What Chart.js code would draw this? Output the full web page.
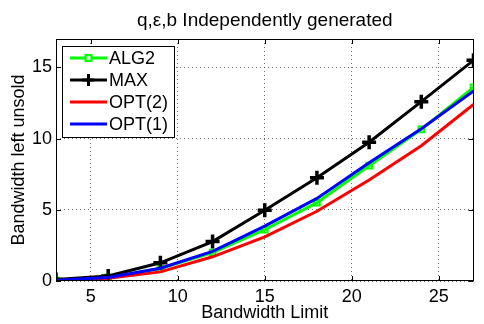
<!DOCTYPE html>
<html>
<head>
<meta charset="utf-8">
<script src="https://cdn.jsdelivr.net/npm/chart.js@4.4.1/dist/chart.umd.min.js"></script>
<style>
  html, body { margin: 0; padding: 0; background: #fff; }
  #c { display: block; }
</style>
</head>
<body>
<canvas id="c" width="484" height="324"></canvas>
<script>
// Data
const bandwidthLimits = [3, 6, 9, 12, 15, 18, 21, 24, 27];
const alg2Values = [0.05, 0.25, 0.88, 2.0, 3.6, 5.5, 8.1, 10.65, 13.6];
const maxValues  = [0.1, 0.35, 1.28, 2.77, 4.97, 7.25, 9.75, 12.6, 15.5];
const opt2Values = [0.04, 0.2, 0.64, 1.7, 3.1, 4.9, 7.1, 9.5, 12.4];
const opt1Values = [0.05, 0.25, 0.9, 2.08, 3.85, 5.8, 8.3, 10.7, 13.35];
const xTicks = [5, 10, 15, 20, 25];
const yTicks = [0, 5, 10, 15];

const FONT = "'Liberation Sans', Arial, sans-serif";

const toPts = (ys) => ys.map((y, i) => ({ x: bandwidthLimits[i], y }));

// Box round the plot, MATLAB-style inner ticks and the legend
const matlabFrame = {
  id: "matlabFrame",
  afterDatasetsDraw(chart) {
    const { ctx, chartArea: a, scales } = chart;
    ctx.save();
    ctx.strokeStyle = "#000";
    ctx.lineWidth = 1;
    const tl = 5;
    ctx.beginPath();
    for (const v of xTicks) {
      const px = Math.round(scales.x.getPixelForValue(v)) + 0.5;
      ctx.moveTo(px, a.bottom); ctx.lineTo(px, a.bottom - tl);
      ctx.moveTo(px, a.top); ctx.lineTo(px, a.top + tl);
    }
    for (const v of yTicks) {
      const py = Math.round(scales.y.getPixelForValue(v)) + 0.5;
      ctx.moveTo(a.left, py); ctx.lineTo(a.left + tl, py);
      ctx.moveTo(a.right, py); ctx.lineTo(a.right - tl, py);
    }
    ctx.stroke();
    ctx.strokeRect(Math.round(a.left) + 0.5, Math.round(a.top) + 0.5,
      Math.round(a.right - a.left) - 1, Math.round(a.bottom - a.top) - 1);

    // legend
    const lx = a.left + 6, ly = a.top + 7, lw = 112, lh = 91;
    ctx.fillStyle = "#fff";
    ctx.fillRect(lx, ly, lw, lh);
    ctx.strokeRect(lx + 0.5, ly + 0.5, lw, lh);
    ctx.font = "18px " + FONT;
    ctx.textBaseline = "middle";
    ctx.textAlign = "left";
    chart.data.datasets.forEach((ds, i) => {
      const y = ly + 12 + i * 22;
      const x0 = lx + 8, x1 = lx + 45;
      ctx.strokeStyle = ds.borderColor;
      ctx.lineWidth = ds.borderWidth;
      ctx.beginPath(); ctx.moveTo(x0, y); ctx.lineTo(x1, y); ctx.stroke();
      const mx = (x0 + x1) / 2;
      if (ds.pointStyle === "rect") {
        ctx.lineWidth = 2;
        ctx.fillStyle = "#ccffcc";
        ctx.fillRect(mx - 3, y - 3, 6, 6);
        ctx.strokeRect(mx - 3, y - 3, 6, 6);
      } else if (ds.pointStyle === "cross") {
        ctx.lineWidth = 3;
        ctx.beginPath();
        ctx.moveTo(mx - 6, y); ctx.lineTo(mx + 6, y);
        ctx.moveTo(mx, y - 6); ctx.lineTo(mx, y + 6);
        ctx.stroke();
      }
      ctx.fillStyle = "#000";
      ctx.fillText(ds.label, x1 + 2, y + 1);
    });
    ctx.restore();
  },
};

new Chart(document.getElementById("c"), {
  type: "line",
  data: {
    datasets: [
      {
        label: "ALG2",
        data: toPts(alg2Values),
        borderColor: "#00ff00",
        borderWidth: 3,
        pointStyle: "rect",
        pointRadius: 4,
        pointBorderWidth: 2,
        pointBackgroundColor: "rgba(0,0,0,0)",
        order: 4,
      },
      {
        label: "MAX",
        data: toPts(maxValues),
        borderColor: "#000000",
        borderWidth: 3,
        pointStyle: "cross",
        pointRadius: 7,
        pointBorderWidth: 3.5,
        order: 3,
      },
      {
        label: "OPT(2)",
        data: toPts(opt2Values),
        borderColor: "#ff0000",
        borderWidth: 3,
        pointRadius: 0,
        order: 2,
      },
      {
        label: "OPT(1)",
        data: toPts(opt1Values),
        borderColor: "#0000ff",
        borderWidth: 3,
        pointRadius: 0,
        order: 1,
      },
    ],
  },
  options: {
    responsive: false,
    animation: false,
    layout: { padding: { left: 0, right: 3, top: 0, bottom: 0 } },
    plugins: {
      legend: { display: false },
      tooltip: { enabled: false },
      title: {
        display: true,
        fullSize: false,
        text: "q,\u03b5,b Independently generated",
        color: "#000",
        font: { family: FONT, size: 19, weight: "normal" },
        padding: { top: 9, bottom: 7.2 },
      },
    },
    scales: {
      x: {
        type: "linear",
        min: 3,
        max: 27,
        afterBuildTicks: (s) => { s.ticks = xTicks.map((v) => ({ value: v })); },
        afterFit: (s) => { s.height = 43; },
        ticks: { color: "#000", padding: 5, font: { family: FONT, size: 18 }, maxRotation: 0 },
        grid: { color: "rgba(0,0,0,0.55)", drawTicks: false },
        border: { display: false, dash: [1, 3] },
        title: {
          display: true,
          text: "Bandwidth Limit",
          color: "#000",
          font: { family: FONT, size: 18 },
          padding: { top: 0, bottom: 0 },
        },
      },
      y: {
        type: "linear",
        min: 0,
        max: 17,
        afterBuildTicks: (s) => { s.ticks = yTicks.map((v) => ({ value: v })); },
        afterFit: (s) => { s.width = 56; },
        ticks: { color: "#000", padding: 4, font: { family: FONT, size: 18 } },
        grid: { color: "rgba(0,0,0,0.55)", drawTicks: false },
        border: { display: false, dash: [1, 3] },
        title: {
          display: true,
          text: "Bandwidth left unsold",
          color: "#000",
          font: { family: FONT, size: 18 },
          padding: { top: 8, bottom: 0 },
        },
      },
    },
  },
  plugins: [matlabFrame],
});
</script>
</body>
</html>
